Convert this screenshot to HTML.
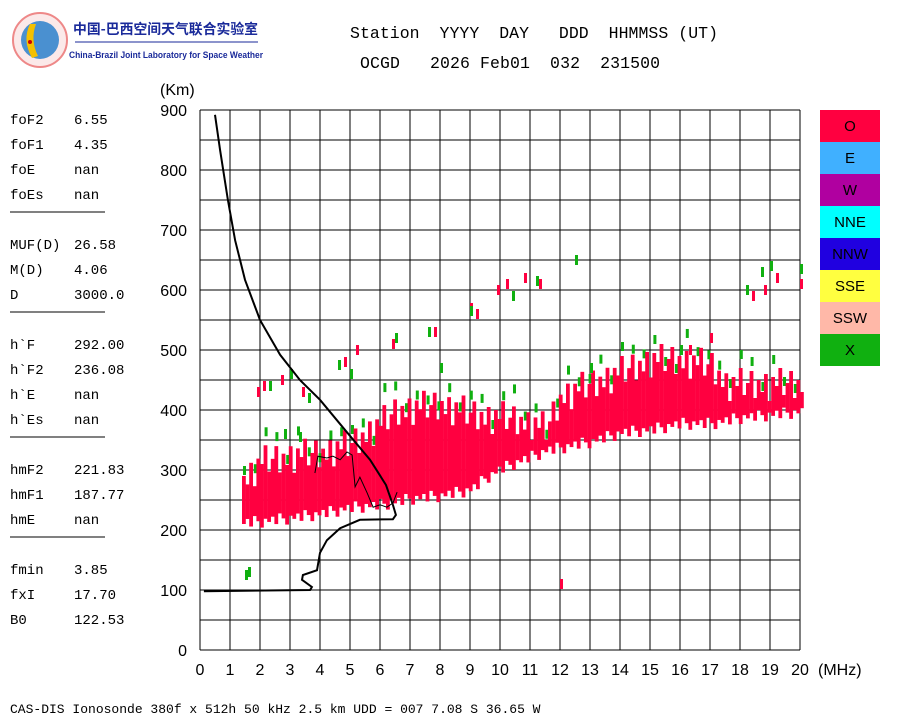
<!DOCTYPE html>
<html><head><meta charset="utf-8"><style>
body{margin:0;background:#fff;width:900px;height:720px;overflow:hidden;font-family:"Liberation Mono","Noto Sans CJK SC",monospace}
svg{position:absolute;left:0;top:0}
</style></head><body>
<svg id="chart" width="900" height="720">
<g>
<circle cx="40" cy="40" r="27" fill="#fbe9e9" stroke="#e88" stroke-width="2"/>
<circle cx="40" cy="40" r="19" fill="#4a90d0"/>
<path d="M30 24 Q22 40 32 58 L38 56 Q30 40 36 24Z" fill="#f5c000"/>
<circle cx="30" cy="42" r="2" fill="#c00"/>
<text x="73" y="34" font-family="'Noto Sans CJK SC',sans-serif" font-size="14" fill="#1a2a9a" font-weight="bold" textLength="185" lengthAdjust="spacingAndGlyphs">中国-巴西空间天气联合实验室</text>
<line x1="75" y1="42" x2="258" y2="42" stroke="#1a2a9a" stroke-width="1"/>
<text x="69" y="58" font-family="'Liberation Sans',sans-serif" font-size="9.5" fill="#1a2a9a" font-weight="bold" textLength="194" lengthAdjust="spacingAndGlyphs">China-Brazil Joint Laboratory for Space Weather</text>
</g>
<text x="350" y="38" font-size="16.5" fill="#000" xml:space="preserve" textLength="368">Station  YYYY  DAY   DDD  HHMMSS (UT)</text>
<text x="360" y="68" font-size="16.5" fill="#000" xml:space="preserve" textLength="300">OCGD   2026 Feb01  032  231500</text>
<g id="params" font-size="14"></g>
<g id="grid"></g>
<g id="marks"></g>
<g id="lines"></g>
<g id="axes" font-family="'Liberation Sans',sans-serif" font-size="16"></g>
<g id="legend" font-family="'Liberation Sans',sans-serif" font-size="15"></g>
<text x="10" y="713" font-size="13">CAS-DIS Ionosonde 380f x 512h 50 kHz 2.5 km UDD = 007 7.08 S 36.65 W</text>
</svg>
<script>
const paramLabels=["foF2","foF1","foE","foEs",null,"MUF(D)","M(D)","D",null,"h`F","h`F2","h`E","h`Es",null,"hmF2","hmF1","hmE",null,"fmin","fxI","B0"];
const paramValues=["6.55","4.35","nan","nan",null,"26.58","  4.06","3000.0",null,"292.00","236.08","nan","nan",null,"221.83","187.77","nan",null,"3.85","17.70","122.53"];
const xTicks=[0,1,2,3,4,5,6,7,8,9,10,11,12,13,14,15,16,17,18,19,20];
const yTicks=[0,100,200,300,400,500,600,700,800,900];
const legendNames=["O","E","W","NNE","NNW","SSE","SSW","X"];
const legendColors=["#ff0040","#40b0ff","#b000a0","#00ffff","#2000e0","#ffff40","#ffb8a8","#10b010"];
// O-trace band: frequency, lower & upper virtual height
const bandFreq=[1.4,2,3,4,5,6,6.5,7,8,9,9.5,10,11,11.5,12,13,14,15,16,17,17.5,18,19,20];
const bandLow=[210,212,218,225,235,240,245,250,255,265,285,300,320,330,335,345,360,365,375,375,380,385,390,395];
const bandHigh=[290,320,330,335,350,385,405,410,415,400,395,395,385,375,430,450,470,490,490,480,450,450,450,450];
const hFreq=[0.5,0.67,0.93,1.17,1.5,2,2.67,3.33,4,4.83,5.67,6.2,6.43];
const hVal=[892,833,750,683,617,550,492,450,417,367,317,275,242];
const pFreq=[0.13,3.67,3.73,3.4,3.43,3.9,4,4.23,4.67,5.33,6.43,6.53,6.43];
const pVal=[98,100,105,117,125,133,162,183,203,217,218,225,242];
const wFreq=[3.83,3.93,4.23,4.43,4.67,4.9,5.07,5.17,5.33,5.57,5.77,6,6.23,6.43,6.57];
const wVal=[295,323,320,323,317,330,325,272,288,262,238,242,238,245,263];
const redF=[1.9,2.1,2.7,3.4,4.8,5.2,6.4,7.8,9.0,9.2,9.9,10.2,10.8,11.3,12.0,16.3,17.0,18.4,18.8,19.2,20];
const redH=[430,440,450,430,480,500,510,530,570,560,600,610,620,610,110,500,520,590,600,620,610];
const greenF=[1.5,1.6,2.3,2.8,3.0,3.3,3.6,4.6,5.0,6.5,7.6,8.0,9.0,10.4,11.2,12.5,13.0,16.0,18.2,18.7,19.0,20];
const greenH=[125,130,440,360,460,355,420,475,460,520,530,470,565,590,615,650,470,500,600,630,640,635];
const NS="http://www.w3.org/2000/svg";
const X=f=>200+f*30, Y=h=>650-h*0.6;
const topJag=[0,-20,10,-35,5,-10,20,-25,-5,15,-30];
const botJag=[0,8,-5,12,3,-8,6];
function mk(tag,p,parent){const e=document.createElementNS(NS,tag);for(const k in p)e.setAttribute(k,p[k]);parent.appendChild(e);return e;}
const P=document.getElementById('params');
paramLabels.forEach((l,i)=>{const y=124+i*25;
 if(l===null){const ln=mk('line',{x1:10,x2:105,y1:y-12,y2:y-12,stroke:'#000'},P);return;}
 const t=mk('text',{x:10,y:y},P);t.textContent=l;
 const v=mk('text',{x:74,y:y,'xml:space':'preserve'},P);v.textContent=paramValues[i];});
const G=document.getElementById('grid');
for(let f=0;f<=20;f++){const l=mk('line',{x1:X(f),x2:X(f),y1:Y(900),y2:Y(0),stroke:'#000','stroke-width':1},G);}
for(let h=0;h<=900;h+=50){const l=mk('line',{x1:X(0),x2:X(20),y1:Y(h),y2:Y(h),stroke:'#000','stroke-width':1},G);}
function interp(fa,va,f){for(let i=0;i<fa.length-1;i++){if(f>=fa[i]&&f<=fa[i+1]){const t=(f-fa[i])/(fa[i+1]-fa[i]);return va[i]+t*(va[i+1]-va[i]);}}return null;}
const M=document.getElementById('marks');
let k=0;
for(let f=bandFreq[0];f<=20;f+=0.12,k++){let lo=interp(bandFreq,bandLow,f),hi=interp(bandFreq,bandHigh,f);if(lo===null)continue;
 hi+=topJag[k%topJag.length];lo+=botJag[k%botJag.length];
 const r=mk('rect',{x:X(f),y:Y(hi),width:3.8,height:(hi-lo)*0.6,fill:'#ff0040'},M);
 if(k%3===0){const g=mk('rect',{x:X(f)+1,y:Y(hi)-10-(k%4)*4,width:3,height:9,fill:'#10b010'},M);}}
redF.forEach((f,i)=>{const r=mk('rect',{x:X(f),y:Y(redH[i])-5,width:3,height:10,fill:'#ff0040'},M);});
greenF.forEach((f,i)=>{const r=mk('rect',{x:X(f),y:Y(greenH[i])-5,width:3,height:10,fill:'#10b010'},M);});
const L=document.getElementById('lines');
function poly(fa,va,w,name){const d=fa.map((f,i)=>X(f)+','+Y(va[i])).join(' ');const p=mk('polyline',{points:d,fill:'none',stroke:'#000','stroke-width':w},L);}
poly(hFreq,hVal,2,'virtual-height-curve');poly(pFreq,pVal,2,'true-height-profile');poly(wFreq,wVal,1,'fit-trace');
const A=document.getElementById('axes');
xTicks.forEach(f=>{const t=mk('text',{x:X(f),y:675,'text-anchor':'middle'},A);t.textContent=f;});
yTicks.forEach(h=>{const t=mk('text',{x:187,y:Y(h)+6,'text-anchor':'end'},A);t.textContent=h;});
{const t=mk('text',{x:160,y:95},A);t.textContent='(Km)';
 const u=mk('text',{x:818,y:675},A);u.textContent='(MHz)';}
const LG=document.getElementById('legend');
legendNames.forEach((n,i)=>{const y=110+i*32;const r=mk('rect',{x:820,y:y,width:60,height:32,fill:legendColors[i]},LG);
 const t=mk('text',{x:850,y:y+21,'text-anchor':'middle'},LG);t.textContent=n;});
</script>
</body></html>
